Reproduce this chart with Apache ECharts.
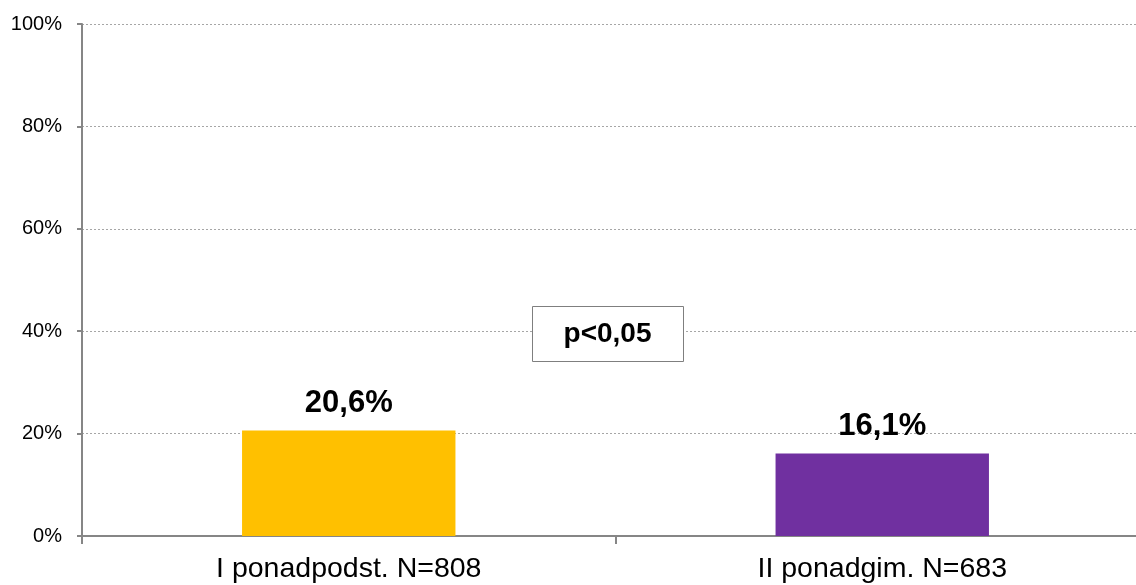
<!DOCTYPE html>
<html>
<head>
<meta charset="utf-8">
<script src="https://cdn.jsdelivr.net/npm/echarts@6/dist/echarts.min.js"></script>
<style>
	html, body { margin: 0; padding: 0; background: #fff; overflow: hidden; }
	#chart { width: 1136px; height: 585px; }
</style>
</head>
<body>
<div id="chart"></div>
<script>
const categories = ['I ponadpodst. N=808', 'II ponadgim. N=683']
const values = [20.6, 16.1]
const barColors = ['#FFC000', '#7030A0']
const yMin = 0
const yMax = 100
const yStep = 20
const noteText = 'p<0,05'

const font = "'Liberation Sans', Arial, sans-serif"
const axisGray = '#868686'

const chart = echarts.init(document.getElementById('chart'))

const option = {
	animation: false,
	grid: {
		left: 82,
		right: -13,
		top: 24,
		bottom: 49,
		containLabel: false,
		outerBoundsMode: 'none'
	},
	xAxis: {
		type: 'category',
		data: categories,
		axisLine: { lineStyle: { color: axisGray, width: 2 } },
		axisTick: { show: true, length: 8, lineStyle: { color: axisGray, width: 2 } },
		axisLabel: {
			color: '#000',
			fontFamily: font,
			fontSize: 28.5,
			margin: 19
		}
	},
	yAxis: {
		type: 'value',
		min: yMin,
		max: yMax,
		interval: yStep,
		axisLine: { show: true, lineStyle: { color: axisGray, width: 2 } },
		axisTick: { show: true, length: 5, lineStyle: { color: axisGray, width: 2 } },
		splitLine: { lineStyle: { color: '#a6a6a6', width: 1, type: [2, 2] } },
		axisLabel: {
			color: '#000',
			fontFamily: font,
			fontSize: 20,
			margin: 20,
			formatter: '{value}%'
		}
	},
	series: [
		{
			type: 'bar',
			barWidth: '40%',
			data: values.map((v, i) => ({ value: v, itemStyle: { color: barColors[i] } })),
			label: {
				show: true,
				position: 'top',
				distance: 12,
				color: '#000',
				fontFamily: font,
				fontWeight: 'bold',
				fontSize: 31,
				formatter: (p) => p.value.toFixed(1).replace('.', ',') + '%'
			}
		}
	],
	graphic: [
		{
			type: 'rect',
			left: 532,
			top: 306,
			shape: { width: 151, height: 55 },
			style: { fill: '#fff', stroke: '#7f7f7f', lineWidth: 1 },
			z: 10
		},
		{
			type: 'text',
			x: 607.5,
			y: 334,
			style: {
				text: noteText,
				fill: '#000',
				font: 'bold 28px ' + font,
				textAlign: 'center',
				textVerticalAlign: 'middle'
			},
			z: 11
		}
	]
}

chart.setOption(option)
</script>
</body>
</html>
